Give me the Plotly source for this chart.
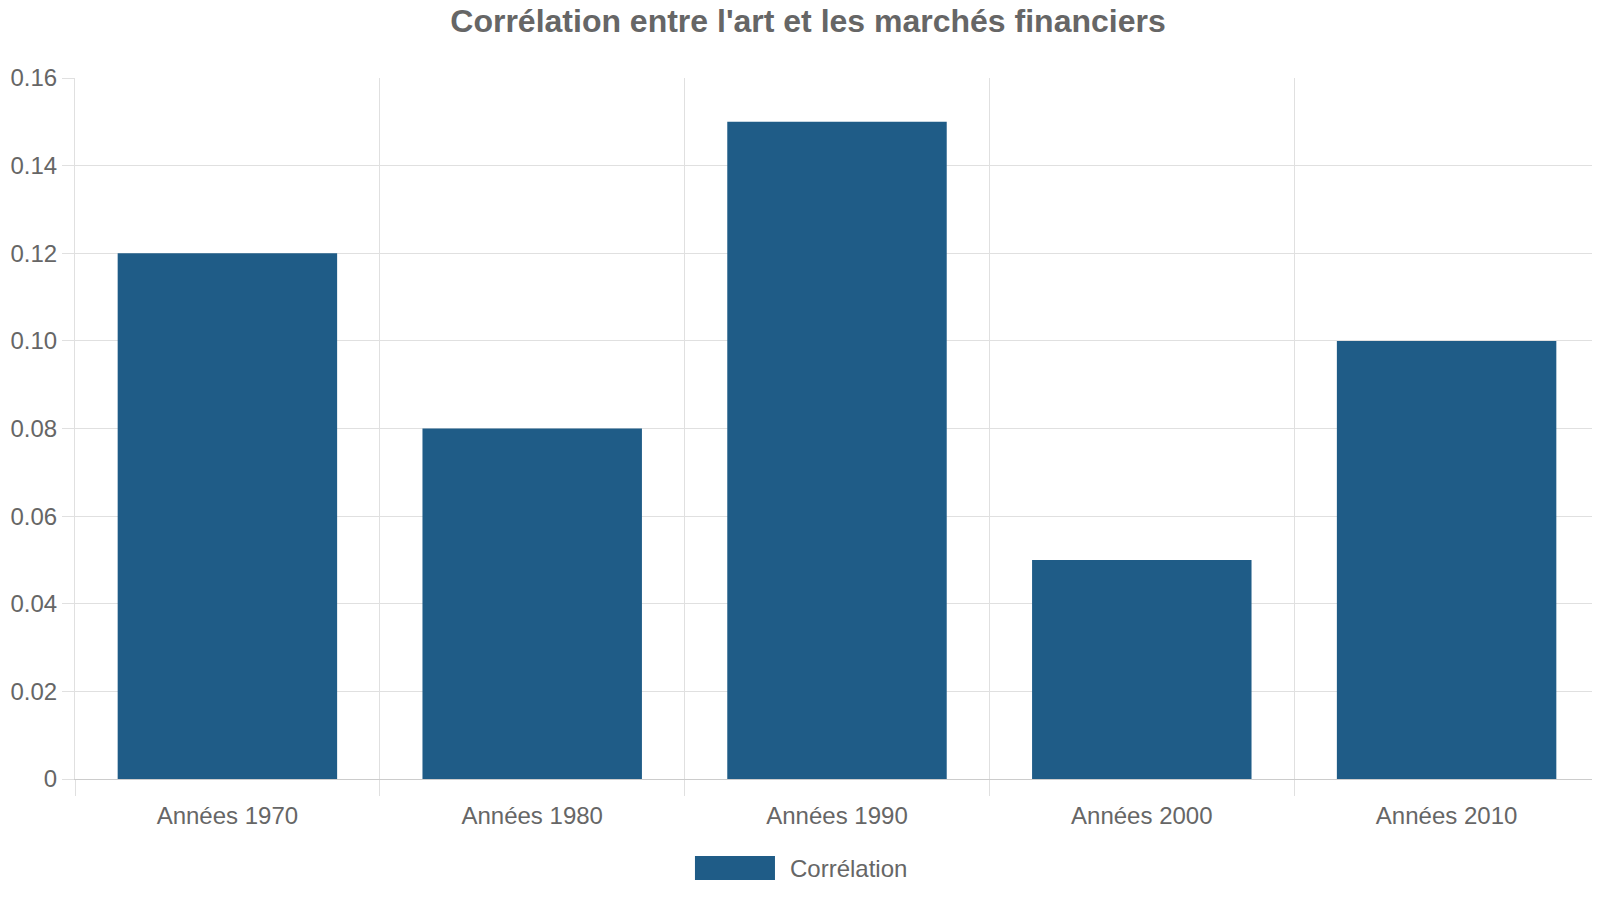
import plotly.graph_objects as go

# data
decades = ["Années 1970", "Années 1980", "Années 1990", "Années 2000", "Années 2010"]
correlation = [0.12, 0.08, 0.15, 0.05, 0.10]
series_name = "Corrélation"

y_ticks = [0, 0.02, 0.04, 0.06, 0.08, 0.10, 0.12, 0.14, 0.16]
y_labels = ["0", "0.02", "0.04", "0.06", "0.08", "0.10", "0.12", "0.14", "0.16"]

bar_color = "#1f5c87"
text_color = "#666666"
grid_color = "#e0e0e0"

fig = go.Figure()
fig.add_trace(go.Bar(x=decades, y=correlation, name=series_name,
                     marker=dict(color=bar_color, line=dict(width=0)),
                     showlegend=False))

# page body adds 8px offset, margins compensate for it
fig.update_layout(
    width=1600, height=900,
    margin=dict(l=67, r=9, t=70, b=129),
    paper_bgcolor="white", plot_bgcolor="white",
    font=dict(family="Liberation Sans, Arial, sans-serif", size=24, color=text_color),
    title=dict(text="<b>Corrélation entre l'art et les marchés financiers</b>",
               x=0.5, xanchor="center", y=0.9855, yanchor="middle",
               font=dict(size=32, color=text_color)),
    bargap=0.28,
)

fig.update_xaxes(
    type="category", tickson="boundaries", automargin=False,
    showgrid=True, gridcolor=grid_color, gridwidth=1,
    ticks="outside", ticklen=16, tickcolor=grid_color,
    showline=True, linecolor="#cccccc", linewidth=1,
    ticklabelstandoff=15,
)
fig.update_yaxes(
    range=[0, 0.16], tickvals=y_ticks, ticktext=y_labels, automargin=False,
    showgrid=True, gridcolor=grid_color, gridwidth=1,
    zeroline=False, showline=True, linecolor=grid_color, mirror=True,
    ticks="outside", ticklen=12, tickcolor=grid_color,
    ticklabelstandoff=0,
)

# legend drawn as wide swatch like the original
fig.add_shape(type="rect", xref="paper", yref="paper",
              x0=0.4068, x1=0.4593, y0=-0.1098, y1=-0.1441,
              fillcolor=bar_color, line=dict(width=0))
fig.add_annotation(text=series_name, xref="paper", yref="paper",
                   x=0.4678, y=-0.127, xanchor="left", yanchor="middle",
                   showarrow=False, font=dict(size=24, color=text_color))

fig.write_html("out.html")
